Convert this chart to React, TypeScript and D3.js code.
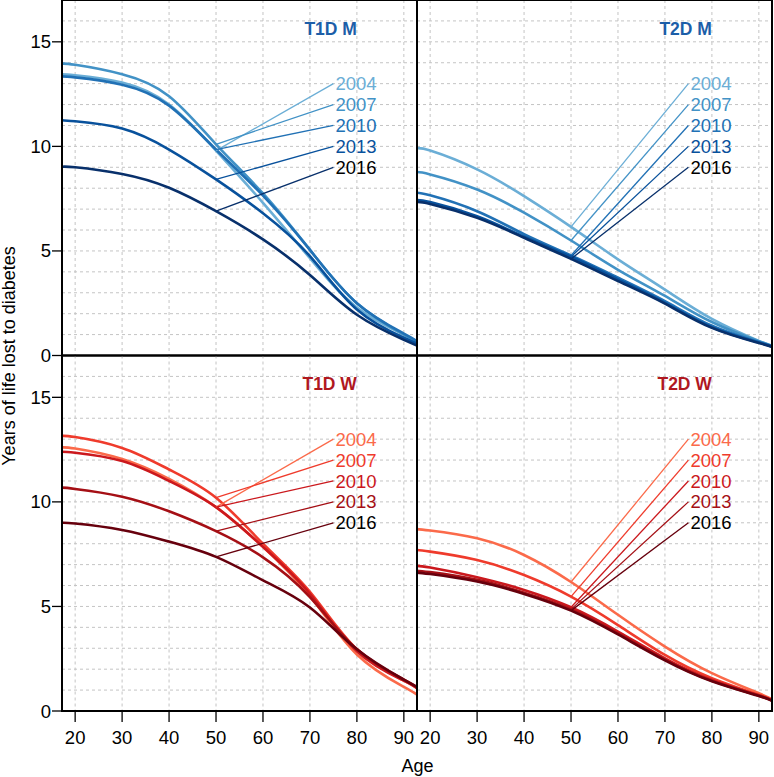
import React from 'react';
import * as d3 from 'd3';

const AGES = [17, 20, 30, 40, 50, 60, 70, 80, 90, 93];
const YEARS = ['2004', '2007', '2010', '2013', '2016'];
const X_TICKS = [20, 30, 40, 50, 60, 70, 80, 90];
const Y_TICKS = [0, 5, 10, 15];

// Years of life lost by age, one row per calendar year (2004..2016)
const t1dMen = [
  [13.45, 13.4, 13.05, 12.0, 9.8, 7.3, 4.65, 2.3, 1.0, 0.6],
  [13.95, 13.9, 13.45, 12.4, 10.1, 7.75, 5.05, 2.5, 1.0, 0.6],
  [13.35, 13.3, 12.95, 11.95, 9.85, 7.65, 5.05, 2.5, 1.05, 0.65],
  [11.25, 11.2, 10.85, 9.85, 8.42, 6.8, 4.75, 2.2, 0.85, 0.55],
  [9.02, 9.0, 8.68, 8.02, 6.9, 5.55, 3.85, 1.95, 0.75, 0.45],
];
const t2dMen = [
  [9.9, 9.8, 8.9, 7.62, 6.15, 4.6, 3.15, 1.75, 0.7, 0.45],
  [8.77, 8.66, 7.94, 6.83, 5.5, 4.1, 2.85, 1.6, 0.68, 0.45],
  [7.78, 7.66, 6.9, 5.8, 4.78, 3.72, 2.6, 1.42, 0.64, 0.42],
  [7.43, 7.34, 6.66, 5.68, 4.72, 3.64, 2.52, 1.35, 0.62, 0.4],
  [7.34, 7.25, 6.58, 5.63, 4.62, 3.56, 2.48, 1.32, 0.6, 0.4],
];
const t1dWomen = [
  [12.6, 12.55, 12.05, 11.1, 9.75, 7.85, 5.5, 2.7, 1.15, 0.75],
  [13.15, 13.1, 12.58, 11.55, 10.2, 8.0, 5.7, 2.95, 1.45, 1.05],
  [12.4, 12.35, 11.95, 11.0, 9.75, 7.85, 5.6, 2.85, 1.45, 1.05],
  [10.68, 10.62, 10.25, 9.55, 8.6, 7.35, 5.45, 2.95, 1.5, 1.1],
  [9.0, 8.97, 8.66, 8.1, 7.37, 6.25, 4.95, 2.95, 1.5, 1.12],
];
const t2dWomen = [
  [8.7, 8.63, 8.26, 7.46, 6.17, 4.6, 3.08, 1.81, 0.85, 0.53],
  [7.7, 7.62, 7.22, 6.5, 5.47, 4.11, 2.68, 1.57, 0.77, 0.5],
  [6.94, 6.86, 6.4, 5.79, 4.96, 3.8, 2.52, 1.48, 0.75, 0.48],
  [6.71, 6.64, 6.27, 5.66, 4.86, 3.71, 2.46, 1.44, 0.73, 0.47],
  [6.62, 6.55, 6.19, 5.6, 4.8, 3.66, 2.42, 1.42, 0.72, 0.46],
];
const LABEL_Y = [13, 12, 11, 10, 9];

const BLUES = ['#6baed6', '#4292c6', '#2171b5', '#08519c', '#08306b'];
const REDS = ['#fb6a4a', '#ef3b2c', '#cb181d', '#a50f15', '#67000d'];

const FONT = '"Liberation Sans", Arial, Helvetica, sans-serif';
const PX = [62, 417];
const PY = [0, 355.5];
const PW = 355;
const PH = 355.5;
const FS = 18.5;

const panels = [
  { key: 'a', title: 'T1D M', data: t1dMen, colors: BLUES, titleColor: '#1c5ea8', col: 0, row: 0 },
  { key: 'b', title: 'T2D M', data: t2dMen, colors: BLUES, titleColor: '#1c5ea8', col: 1, row: 0 },
  { key: 'c', title: 'T1D W', data: t1dWomen, colors: REDS, titleColor: '#b0181f', col: 0, row: 1 },
  { key: 'd', title: 'T2D W', data: t2dWomen, colors: REDS, titleColor: '#b0181f', col: 1, row: 1 },
];

function Panel({ p }: { p: any }) {
  const x0 = PX[p.col];
  const y0 = PY[p.row];
  const x = d3.scaleLinear().domain([17.2, 92.8]).range([x0, x0 + PW]);
  const y = d3.scaleLinear().domain([0, 17]).range([y0 + PH, y0]);
  const line = d3
    .line<number>()
    .x((_, i) => x(AGES[i]))
    .y((v) => y(v))
    .curve(d3.curveNatural);
  const clipId = 'clip-' + p.key;
  const hGrid = d3.range(1, 17);
  const i50 = AGES.indexOf(50);
  return (
    <g>
      <defs>
        <clipPath id={clipId}>
          <rect x={x0} y={y0} width={PW} height={PH} />
        </clipPath>
      </defs>
      <g clipPath={`url(#${clipId})`}>
        {X_TICKS.map((t) => (
          <line key={'vx' + t} x1={x(t)} x2={x(t)} y1={y0} y2={y0 + PH} stroke="#c4c4c4" strokeWidth={1} strokeDasharray="3,3" />
        ))}
        {hGrid.map((t) => (
          <line key={'hy' + t} x1={x0} x2={x0 + PW} y1={y(t)} y2={y(t)} stroke="#c4c4c4" strokeWidth={1} strokeDasharray="3,3" />
        ))}
        {p.data.map((row: number[], i: number) => (
          <path key={'c' + i} d={line(row) || ''} fill="none" stroke={p.colors[i]} strokeWidth={2.6} />
        ))}
        {p.data.map((row: number[], i: number) => (
          <line
            key={'l' + i}
            x1={x(50)}
            y1={y(row[i50])}
            x2={x(75)}
            y2={y(LABEL_Y[i])}
            stroke={p.colors[i]}
            strokeWidth={1.3}
          />
        ))}
      </g>
      {p.data.map((_: number[], i: number) => (
        <text
          key={'t' + i}
          x={x(75) + 2}
          y={y(LABEL_Y[i]) + 6.6}
          fontSize={FS}
          fontFamily={FONT}
          fill={i === 4 ? '#000' : p.colors[i]}
        >
          {YEARS[i]}
        </text>
      ))}
      <text x={x(80)} y={y(15.35)} textAnchor="end" fontSize={17.5} fontWeight="bold" fontFamily={FONT} fill={p.titleColor}>
        {p.title}
      </text>
      <rect x={x0} y={y0} width={PW} height={PH} fill="none" stroke="#000" strokeWidth={2} />
      {p.col === 0 &&
        Y_TICKS.map((t) => (
          <g key={'yt' + t}>
            <line x1={x0 - 10} x2={x0} y1={y(t)} y2={y(t)} stroke="#000" strokeWidth={1.3} />
            <text x={x0 - 11} y={y(t) + 6.5} textAnchor="end" fontSize={FS} fontFamily={FONT} fill="#000">
              {t}
            </text>
          </g>
        ))}
      {p.row === 1 &&
        X_TICKS.map((t) => (
          <g key={'xt' + t}>
            <line x1={x(t)} x2={x(t)} y1={y0 + PH} y2={y0 + PH + 11} stroke="#000" strokeWidth={1.3} />
            <text x={x(t)} y={743.5} textAnchor="middle" fontSize={FS} fontFamily={FONT} fill="#000">
              {t}
            </text>
          </g>
        ))}
    </g>
  );
}

export default function App() {
  return (
    <svg
      width={774}
      height={777}
      style={{ position: 'absolute', left: 0, top: 0, background: '#fff' }}
      xmlns="http://www.w3.org/2000/svg"
    >
      <rect x={0} y={0} width={774} height={777} fill="#fff" />
      {panels.map((p) => (
        <Panel key={p.key} p={p} />
      ))}
      <text
        transform="translate(15,356) rotate(-90)"
        textAnchor="middle"
        fontSize={18}
        fontFamily={FONT}
        fill="#000"
      >
        Years of life lost to diabetes
      </text>
      <text x={417.5} y={772} textAnchor="middle" fontSize={18} fontFamily={FONT} fill="#000">
        Age
      </text>
    </svg>
  );
}
